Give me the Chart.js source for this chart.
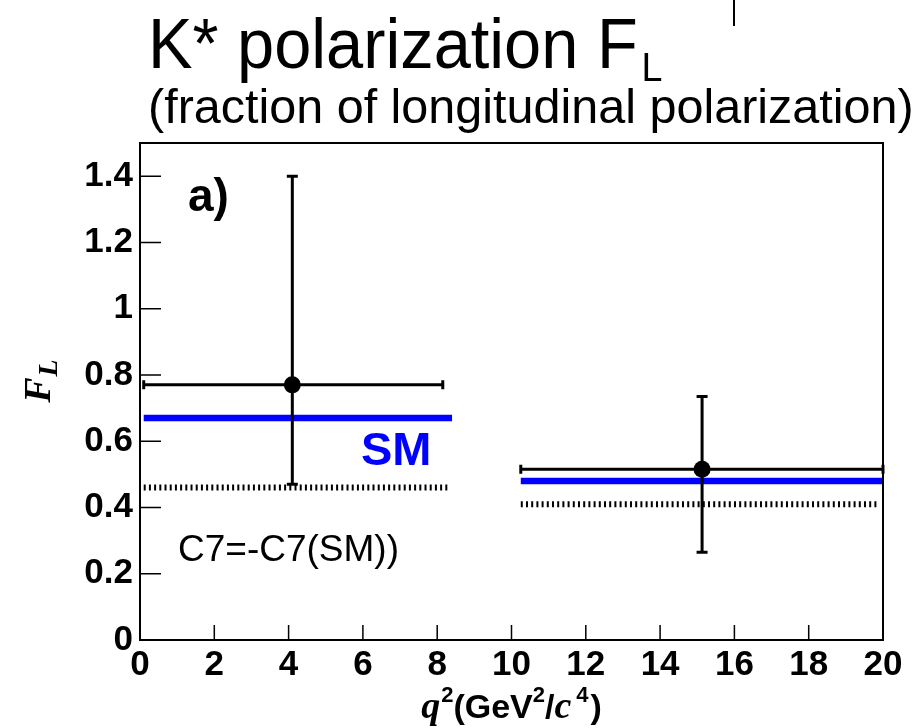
<!DOCTYPE html>
<html>
<head>
<meta charset="utf-8">
<script src="https://cdn.jsdelivr.net/npm/chart.js@4"></script>
<style>
  html, body { margin: 0; padding: 0; background: #ffffff; }
  #wrap { width: 916px; height: 728px; }
</style>
</head>
<body>
<div id="wrap"><canvas id="c" width="916" height="728"></canvas></div>
<script>
// Measured F_L in two q^2 bins
const binLo = [0.1, 10.25];
const binHi = [8.15, 20];
const binCenter = [4.1, 15.13];
const flValue = [0.77, 0.515];
const flLow = [0.47, 0.265];
const flHigh = [1.40, 0.735];

// Standard Model prediction per bin
const smValue = [0.67, 0.48];
const smLo = [0.1, 10.25];
const smHi = [8.4, 20];

// Prediction with flipped C7 sign
const flipValue = [0.46, 0.41];
const flipLo = [0.1, 10.25];
const flipHi = [8.3, 19.9];

// Axis ticks
const xTicks = [0, 2, 4, 6, 8, 10, 12, 14, 16, 18, 20];
const yTicks = [0, 0.2, 0.4, 0.6, 0.8, 1, 1.2, 1.4];

const SANS = '"Liberation Sans", Arial, Helvetica, sans-serif';
const SERIF = '"Liberation Serif", "Times New Roman", serif';

function segments(lo, hi, val) {
  return lo.map((l, i) => [{ x: l, y: val[i] }, { x: hi[i], y: val[i] }]);
}

const smSegs = segments(smLo, smHi, smValue);
const flipSegs = segments(flipLo, flipHi, flipValue);

const datasets = [
  {
    label: 'data',
    data: binCenter.map((x, i) => ({ x: x, y: flValue[i] })),
    showLine: false,
    pointRadius: 8.5,
    pointHoverRadius: 8.5,
    pointBackgroundColor: '#000000',
    pointBorderColor: '#000000',
    pointBorderWidth: 0
  }
];
smSegs.forEach((seg, i) => datasets.push({
  label: 'SM ' + i,
  data: seg,
  showLine: true,
  borderColor: '#0000ff',
  borderWidth: 6.5,
  borderCapStyle: 'butt',
  pointRadius: 0,
  tension: 0
}));
flipSegs.forEach((seg, i) => datasets.push({
  label: 'flip ' + i,
  data: seg,
  showLine: true,
  borderColor: '#000000',
  borderWidth: 6,
  borderDash: [2, 3.2],
  borderCapStyle: 'butt',
  pointRadius: 0,
  tension: 0
}));

// Error bars, drawn just before the markers so they sit above the prediction lines
const errorBars = {
  id: 'errorBars',
  beforeDatasetDraw(chart, args) {
    if (args.index !== 0) return;
    const { ctx, scales: { x, y } } = chart;
    ctx.save();
    ctx.strokeStyle = '#000000';
    ctx.lineWidth = 3;
    ctx.lineCap = 'butt';
    for (let i = 0; i < binCenter.length; i++) {
      const px = x.getPixelForValue(binCenter[i]);
      const py = y.getPixelForValue(flValue[i]);
      const x0 = x.getPixelForValue(binLo[i]);
      const x1 = x.getPixelForValue(binHi[i]);
      const y0 = y.getPixelForValue(flLow[i]);
      const y1 = y.getPixelForValue(flHigh[i]);
      ctx.beginPath();
      ctx.moveTo(x0, py); ctx.lineTo(x1, py);
      ctx.moveTo(x0, py - 4.5); ctx.lineTo(x0, py + 4.5);
      ctx.moveTo(x1, py - 4.5); ctx.lineTo(x1, py + 4.5);
      ctx.moveTo(px, y0); ctx.lineTo(px, y1);
      ctx.moveTo(px - 5.5, y0); ctx.lineTo(px + 5.5, y0);
      ctx.moveTo(px - 5.5, y1); ctx.lineTo(px + 5.5, y1);
      ctx.stroke();
    }
    ctx.restore();
  }
};

// Frame, inward tick marks, titles and annotations
const decorations = {
  id: 'decorations',
  afterDraw(chart) {
    const { ctx, chartArea: a, scales: { x, y } } = chart;
    ctx.save();

    // inward ticks
    ctx.strokeStyle = '#000000';
    ctx.lineWidth = 1.5;
    ctx.beginPath();
    yTicks.forEach(v => {
      const py = y.getPixelForValue(v);
      ctx.moveTo(a.left, py); ctx.lineTo(a.left + 21, py);
    });
    xTicks.forEach(v => {
      const px = x.getPixelForValue(v);
      ctx.moveTo(px, a.bottom); ctx.lineTo(px, a.bottom - 15);
    });
    ctx.stroke();

    // frame
    ctx.lineWidth = 2;
    ctx.strokeRect(a.left, a.top, a.right - a.left, a.bottom - a.top);

    // short mark at top edge
    ctx.beginPath();
    ctx.moveTo(734, 0); ctx.lineTo(734, 26);
    ctx.stroke();

    ctx.fillStyle = '#000000';
    ctx.textAlign = 'left';
    ctx.textBaseline = 'alphabetic';

    // title, slightly condensed
    ctx.save();
    ctx.translate(148, 68);
    ctx.scale(0.94, 1);
    ctx.font = '71px ' + SANS;
    ctx.fillText('K* polarization F', 0, 0);
    const tw = ctx.measureText('K* polarization F').width;
    ctx.font = '40px ' + SANS;
    ctx.fillText('L', tw + 4, 13);
    ctx.restore();
    ctx.font = '48.5px ' + SANS;
    ctx.fillText('(fraction of longitudinal polarization)', 148, 123);

    // panel label
    ctx.font = 'bold 46px ' + SANS;
    ctx.fillText('a)', 188, 211);

    // SM label
    ctx.fillStyle = '#0000ff';
    ctx.font = 'bold 47px ' + SANS;
    ctx.fillText('SM', 361, 465);

    // flipped-sign label
    ctx.fillStyle = '#000000';
    ctx.font = '37px ' + SANS;
    ctx.fillText('C7=-C7(SM))', 178, 561);

    // x axis title: q^2(GeV^2/c^4)
    const parts = [
      { t: 'q', f: 'italic bold 38px ' + SERIF, dy: 0, gap: 1 },
      { t: '2', f: 'bold 22px ' + SANS, dy: -16, gap: 0 },
      { t: '(GeV', f: 'bold 34px ' + SANS, dy: 0, gap: 0 },
      { t: '2', f: 'bold 22px ' + SANS, dy: -16, gap: 0 },
      { t: '/', f: 'bold 34px ' + SANS, dy: 0, gap: 0 },
      { t: 'c', f: 'italic bold 38px ' + SERIF, dy: 0, gap: 5 },
      { t: '4', f: 'bold 22px ' + SANS, dy: -16, gap: 2 },
      { t: ')', f: 'bold 34px ' + SANS, dy: 0, gap: 0 }
    ];
    let total = 0;
    parts.forEach(p => { ctx.font = p.f; p.w = ctx.measureText(p.t).width; total += p.w + p.gap; });
    let cx = (a.left + a.right) / 2 - total / 2;
    parts.forEach(p => {
      ctx.font = p.f;
      ctx.fillText(p.t, cx, 718 + p.dy);
      cx += p.w + p.gap;
    });

    // y axis title: F_L (rotated)
    ctx.translate(50, 381);
    ctx.rotate(-Math.PI / 2);
    ctx.font = 'italic bold 38px ' + SERIF;
    const fw = ctx.measureText('F').width;
    ctx.font = 'italic bold 28px ' + SERIF;
    const lw = ctx.measureText('L').width;
    const start = -(fw + lw + 1) / 2;
    ctx.font = 'italic bold 38px ' + SERIF;
    ctx.fillText('F', start, 0);
    ctx.font = 'italic bold 28px ' + SERIF;
    ctx.fillText('L', start + fw + 1, 7);

    ctx.restore();
  }
};

new Chart(document.getElementById('c'), {
  type: 'scatter',
  data: { datasets: datasets },
  options: {
    responsive: false,
    devicePixelRatio: 1,
    animation: false,
    events: [],
    layout: { padding: { left: 0, top: 143, right: 33, bottom: 0 } },
    plugins: {
      legend: { display: false },
      tooltip: { enabled: false },
      title: { display: false }
    },
    scales: {
      x: {
        type: 'linear',
        min: 0,
        max: 20,
        afterFit(scale) { scale.height = 88; },
        afterBuildTicks(scale) { scale.ticks = xTicks.map(v => ({ value: v })); },
        grid: { display: false, drawTicks: false, tickLength: 0 },
        border: { display: false },
        ticks: {
          autoSkip: false,
          maxRotation: 0,
          padding: 4,
          color: '#000000',
          font: { family: SANS, size: 35, weight: 'bold' },
          callback: v => String(v)
        }
      },
      y: {
        type: 'linear',
        min: 0,
        max: 1.5,
        afterFit(scale) { scale.width = 140; },
        afterBuildTicks(scale) { scale.ticks = yTicks.map(v => ({ value: v })); },
        grid: { display: false, drawTicks: false, tickLength: 0 },
        border: { display: false },
        ticks: {
          autoSkip: false,
          padding: 7,
          color: '#000000',
          font: { family: SANS, size: 35, weight: 'bold' },
          callback: v => String(Math.round(v * 10) / 10)
        }
      }
    }
  },
  plugins: [errorBars, decorations]
});
</script>
</body>
</html>
